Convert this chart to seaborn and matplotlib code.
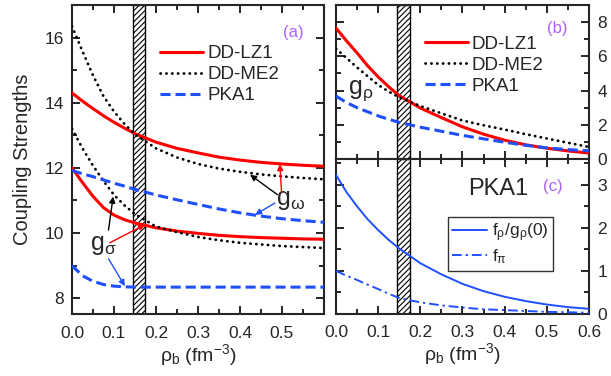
import numpy as np
import pandas as pd
import matplotlib
matplotlib.use("Agg")
import matplotlib.pyplot as plt
import seaborn as sns

# density grid (fm^-3)
rho = [0.0, 0.025, 0.05, 0.075, 0.1, 0.125, 0.15, 0.2, 0.25, 0.3, 0.35, 0.4, 0.45, 0.5, 0.55, 0.6]

# panel (a): g_sigma and g_omega
lz1_gw = [14.3, 14.05, 13.82, 13.6, 13.4, 13.22, 13.05, 12.79, 12.6, 12.46, 12.33, 12.24, 12.17, 12.12, 12.08, 12.05]
me2_gw = [16.35, 15.58, 14.84, 14.2, 13.73, 13.35, 13.03, 12.6, 12.32, 12.12, 11.98, 11.88, 11.8, 11.74, 11.69, 11.65]
pka_gw = [11.92, 11.82, 11.73, 11.63, 11.53, 11.44, 11.34, 11.17, 11.02, 10.88, 10.74, 10.62, 10.52, 10.44, 10.38, 10.33]
lz1_gs = [12.0, 11.55, 11.13, 10.78, 10.55, 10.41, 10.31, 10.16, 10.06, 9.99, 9.93, 9.89, 9.86, 9.84, 9.82, 9.81]
me2_gs = [13.2, 12.6, 12.07, 11.6, 11.17, 10.85, 10.58, 10.2, 10.03, 9.88, 9.78, 9.7, 9.65, 9.6, 9.57, 9.54]
pka_gs = [9.0, 8.69, 8.52, 8.42, 8.37, 8.35, 8.34, 8.34, 8.34, 8.34, 8.34, 8.34, 8.34, 8.34, 8.34, 8.34]

# panel (b): g_rho
lz1_gr = [7.65, 6.9, 6.2, 5.45, 4.8, 4.22, 3.7, 2.98, 2.42, 1.88, 1.45, 1.1, 0.83, 0.63, 0.47, 0.35]
me2_gr = [6.45, 5.9, 5.35, 4.84, 4.33, 3.94, 3.6, 3.1, 2.67, 2.25, 1.97, 1.72, 1.45, 1.2, 0.95, 0.7]
pka_gr = [3.68, 3.3, 3.0, 2.76, 2.52, 2.32, 2.14, 1.86, 1.62, 1.38, 1.18, 0.98, 0.8, 0.65, 0.55, 0.48]

# panel (c): PKA1 tensor couplings
pka_fr = [3.23, 2.83, 2.5, 2.2, 1.95, 1.72, 1.52, 1.18, 0.92, 0.7, 0.53, 0.4, 0.3, 0.22, 0.16, 0.12]
pka_fpi = [1.0, 0.89, 0.79, 0.68, 0.58, 0.47, 0.37, 0.27, 0.2, 0.15, 0.11, 0.09, 0.07, 0.05, 0.04, 0.03]

models = ["DD-LZ1", "DD-ME2", "PKA1"]
sat_band = (0.145, 0.175)

sns.set_style("ticks")
plt.rcParams["font.family"] = ["Liberation Sans", "DejaVu Sans"]
plt.rcParams["mathtext.fontset"] = "custom"
plt.rcParams["mathtext.rm"] = "Liberation Sans"
plt.rcParams["mathtext.it"] = "Liberation Sans"
plt.rcParams["hatch.linewidth"] = 0.8

RED = "#ff0000"
BLUE = "#1e50ff"
PURPLE = "#b060ff"
styles = {
    "DD-LZ1": dict(color=RED, lw=2.2, linestyle="-"),
    "DD-ME2": dict(color="black", lw=2.0, linestyle=(0, (0.1, 2.0)), dash_capstyle="round"),
    "PKA1": dict(color=BLUE, lw=2.2, linestyle=(0, (3.3, 1.6))),
}

fig = plt.figure(figsize=(6.11, 3.76), dpi=100)
axa = fig.add_axes([0.1178, 0.1636, 0.4124, 0.8231])
axb = fig.add_axes([0.5499, 0.5771, 0.4141, 0.4096])
axc = fig.add_axes([0.5499, 0.1649, 0.4141, 0.4122])

for ax in (axa, axb, axc):
    ax.axvspan(*sat_band, facecolor="white", edgecolor="black", hatch="//////", lw=1.0, zorder=1)

# panel (a)
for m, gw, gs in zip(models, [lz1_gw, me2_gw, pka_gw], [lz1_gs, me2_gs, pka_gs]):
    sns.lineplot(x=rho, y=gw, ax=axa, label=m, zorder=3, **styles[m])
    sns.lineplot(x=rho, y=gs, ax=axa, zorder=3, **styles[m])
axa.set_xlim(0, 0.6)
axa.set_ylim(7.5, 17)
axa.set_xticks([0, 0.1, 0.2, 0.3, 0.4, 0.5])
axa.set_xticklabels(["0.0", "0.1", "0.2", "0.3", "0.4", "0.5"])
axa.set_xticks(np.arange(0.05, 0.6, 0.1), minor=True)
axa.set_yticks([8, 10, 12, 14, 16])
axa.set_yticks([9, 11, 13, 15, 17], minor=True)
axa.set_ylabel("Coupling Strengths", fontsize=14.5, labelpad=9)
axa.set_xlabel(r"ρ$_\mathrm{b}$ (fm$^{-3}$)", fontsize=14, labelpad=1)
axa.legend(loc="upper left", bbox_to_anchor=(0.35, 0.87), frameon=False, fontsize=13.5,
           handlelength=2.3, handletextpad=0.2, labelspacing=0.2, borderpad=0, borderaxespad=0)
axa.text(0.526, 16.15, "(a)", color=PURPLE, fontsize=12, ha="center", va="center")

arrow = dict(arrowstyle="-|>", lw=1.0, mutation_scale=9, shrinkA=0, shrinkB=0)
axa.text(0.52, 11.0, r"g$_\mathrm{ω}$", fontsize=18, ha="center", va="center")
axa.annotate("", xy=(0.495, 12.12), xytext=(0.499, 11.25), arrowprops=dict(arrow, color=RED))
axa.annotate("", xy=(0.424, 11.79), xytext=(0.489, 11.18), arrowprops=dict(arrow, color="black"))
axa.annotate("", xy=(0.436, 10.56), xytext=(0.483, 10.92), arrowprops=dict(arrow, color=BLUE))
axa.text(0.075, 9.62, r"g$_\mathrm{σ}$", fontsize=18, ha="center", va="center")
axa.annotate("", xy=(0.098, 11.12), xytext=(0.087, 10.09), arrowprops=dict(arrow, color="black"))
axa.annotate("", xy=(0.174, 10.26), xytext=(0.09, 9.7), arrowprops=dict(arrow, color=RED))
axa.annotate("", xy=(0.126, 8.37), xytext=(0.087, 9.21), arrowprops=dict(arrow, color=BLUE))

# panel (b)
for m, gr in zip(models, [lz1_gr, me2_gr, pka_gr]):
    sns.lineplot(x=rho, y=gr, ax=axb, label=m, zorder=3, **styles[m])
axb.set_xlim(0, 0.6)
axb.set_ylim(0, 9)
axb.set_xticks(np.arange(0, 0.61, 0.1))
axb.set_xticks(np.arange(0.05, 0.6, 0.1), minor=True)
axb.tick_params(axis="x", labelbottom=False)
axb.set_yticks([0, 2, 4, 6, 8])
axb.set_yticks([1, 3, 5, 7, 9], minor=True)
axb.legend(loc="upper left", bbox_to_anchor=(0.35, 0.80), frameon=False, fontsize=13.5,
           handlelength=2.3, handletextpad=0.2, labelspacing=0.2, borderpad=0, borderaxespad=0)
axb.text(0.524, 7.6, "(b)", color=PURPLE, fontsize=12, ha="center", va="center")
axb.text(0.058, 4.0, r"g$_\mathrm{ρ}$", fontsize=18, ha="center", va="center")

# panel (c)
sns.lineplot(x=rho, y=pka_fr, ax=axc, color=BLUE, lw=1.4, label=r"f$_\mathrm{ρ}$/g$_\mathrm{ρ}$(0)", zorder=3)
sns.lineplot(x=rho, y=pka_fpi, ax=axc, color=BLUE, lw=1.4, linestyle=(0, (5, 2, 1.2, 2)),
             label=r"f$_\mathrm{π}$", zorder=3)
axc.set_xlim(0, 0.6)
axc.set_ylim(0, 3.6)
axc.set_xticks(np.arange(0, 0.61, 0.1))
axc.set_xticklabels(["0.0", "0.1", "0.2", "0.3", "0.4", "0.5", "0.6"])
axc.set_xticks(np.arange(0.05, 0.6, 0.1), minor=True)
axc.set_yticks([0, 1, 2, 3])
axc.set_yticks([0.5, 1.5, 2.5, 3.5], minor=True)
axc.set_xlabel(r"ρ$_\mathrm{b}$ (fm$^{-3}$)", fontsize=14, labelpad=1)
leg = axc.legend(loc="upper left", bbox_to_anchor=(0.443, 0.625), frameon=True, fancybox=False,
                 fontsize=12.5, handlelength=2.0, handletextpad=0.3, labelspacing=0.2, borderpad=0.25,
                 borderaxespad=0)
leg.get_frame().set_edgecolor("black")
leg.get_frame().set_linewidth(1.0)
axc.text(0.384, 2.9, "PKA1", fontsize=17, ha="center", va="center")
axc.text(0.515, 2.95, "(c)", color=PURPLE, fontsize=12, ha="center", va="center")

for ax in (axa, axb, axc):
    for s in ax.spines.values():
        s.set_linewidth(1.5)
        s.set_visible(True)
    ax.tick_params(which="both", direction="in", top=True, right=True, width=1.4, labelsize=12.5)
    ax.tick_params(which="major", length=6)
    ax.tick_params(which="minor", length=3.5)
    ax.tick_params(axis="x", which="major", pad=8)
    ax.tick_params(axis="y", which="major", pad=6)
for ax in (axb, axc):
    ax.tick_params(axis="y", labelleft=False, labelright=True)

fig.savefig("out.png", dpi=100)
